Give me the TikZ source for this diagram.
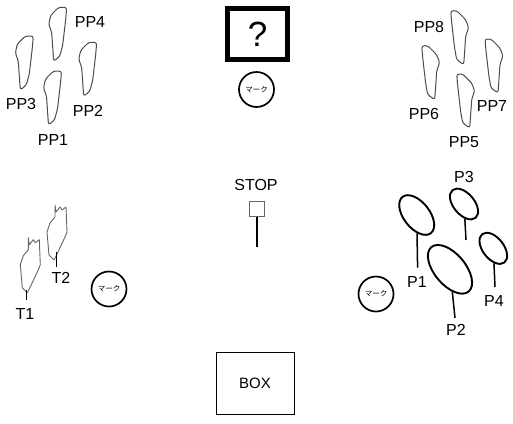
\documentclass[tikz,border=0pt]{standalone}
\usepackage{fontspec}
\setmainfont{Liberation Sans}
\newfontfamily\cjk{Noto Sans CJK JP}
\usetikzlibrary{shapes.geometric}
\tikzset{
  x=1bp,y=-1bp,
  lab/.style={font=\fontsize{16bp}{18bp}\selectfont,inner sep=0pt,text=black},
  pedalline/.style={draw=black!70,line width=1bp,line join=round,rounded corners=2.5bp},
  footring/.style={ellipse,draw=black,line width=1.9bp,inner sep=0pt,minimum width=#1},
  stem/.style={draw=black,line width=1.5bp},
  marknode/.style={circle,draw=black,line width=1.7bp,inner sep=0pt,minimum size=35bp,font=\cjk\fontsize{7.5bp}{8bp}\selectfont},
  pedal/.pic={\draw[pedalline] (0,0) -- (-1,12) -- (-4,38) -- (-7,49) -- (-13,54) -- (-14,40) -- (-15,25) -- (-18,17) -- (-16,8) -- (-8,0) -- cycle;},
  pedalm/.pic={\draw[pedalline] (0,0) -- (1,12) -- (4,38) -- (6,49) -- (13,54) -- (14,40) -- (15,25) -- (18,17) -- (15,9) -- (6,0) -- cycle;},
  tpedal/.pic={\draw[draw=black!60,line width=0.9bp,line join=round] (0,0) -- (1,7) -- (5,2) -- (7,5) -- (11,2) -- (12,27) -- (10,32) -- (3,47) -- (-1,55) -- (-6,50) -- (-8,27) -- (-5,18) -- (0,12) -- cycle;}
}
\begin{document}
\begin{tikzpicture}
\useasboundingbox[fill=white] (0,0) rectangle (513,423);
% left pedals
\pic at (61.5,71) {pedal};
\pic at (66.7,7.3) {pedal};
\pic at (33.3,36) {pedal};
\pic at (96.7,42.3) {pedal};
\node[lab] (PP4) at (90,22) {PP4};
\node[lab] (PP3) at (21,104) {PP3};
\node[lab] (PP2) at (88,111) {PP2};
\node[lab] (PP1) at (53,140) {PP1};
% right pedals
\pic at (456.7,74) {pedalm};
\pic at (421.7,45.7) {pedalm};
\pic at (485,39) {pedalm};
\pic at (450.7,10.7) {pedalm};
\node[lab] (PP8) at (429,27) {PP8};
\node[lab] (PP6) at (424,114) {PP6};
\node[lab] (PP7) at (492,106) {PP7};
\node[lab] (PP5) at (464,142) {PP5};
% question box
\node[draw=black,line width=5bp,minimum width=60bp,minimum height=51bp,inner sep=0pt,font=\fontsize{35bp}{38bp}\selectfont] (Q) at (257.5,34) {?};
\node[marknode] (M1) at (256.5,89.5) {マーク};
% stop
\node[lab] (STOP) at (256,185) {STOP};
\node[draw=black!60,line width=0.9bp,minimum size=15bp,inner sep=0pt] (SQ) at (256.5,209) {};
\coordinate (SE) at (256.5,247);
\draw[stem,line width=2bp] (SQ.south) -- (SE);
% T pedals
\pic at (55,205) {tpedal};
\pic at (28.3,237.7) {tpedal};
\coordinate (T2a) at (56,252); \coordinate (T2b) at (56,267);
\coordinate (T1a) at (26.7,290); \coordinate (T1b) at (26.7,300);
\draw[black,line width=0.9bp] (T2a) -- (T2b);
\draw[black,line width=0.9bp] (T1a) -- (T1b);
\node[lab] (T1) at (25,314) {T1};
\node[lab] (T2) at (61,278) {T2};
\node[marknode] (M2) at (109,289) {マーク};
% pads
\node[footring=46bp,minimum height=26bp,rotate=-52] (P1e) at (416.7,215) {};
\node[footring=58bp,minimum height=31bp,rotate=-50] (P2e) at (450,269.3) {};
\node[footring=36bp,minimum height=21bp,rotate=-50] (P3e) at (464,204) {};
\node[footring=36bp,minimum height=21bp,rotate=-52] (P4e) at (493.3,248.3) {};
\coordinate (P1s) at (417.6,267.6);
\coordinate (P2s) at (455,318);
\coordinate (P3s) at (466,240);
\coordinate (P4s) at (495,287);
\draw[stem] (P1e) -- (P1s);
\draw[stem] (P2e) -- (P2s);
\draw[stem] (P3e) -- (P3s);
\draw[stem] (P4e) -- (P4s);
\node[lab] (P1) at (417,282) {P1};
\node[lab] (P2) at (456,330) {P2};
\node[lab] (P3) at (464,177) {P3};
\node[lab] (P4) at (494,301) {P4};
\node[marknode] (M3) at (376,294) {マーク};
% box
\node[draw=black,line width=1bp,minimum width=78bp,minimum height=62bp,inner sep=0pt,lab,font=\fontsize{15bp}{18bp}\selectfont] (BOX) at (255,383) {BOX\hspace{6bp}};
\end{tikzpicture}
\end{document}
